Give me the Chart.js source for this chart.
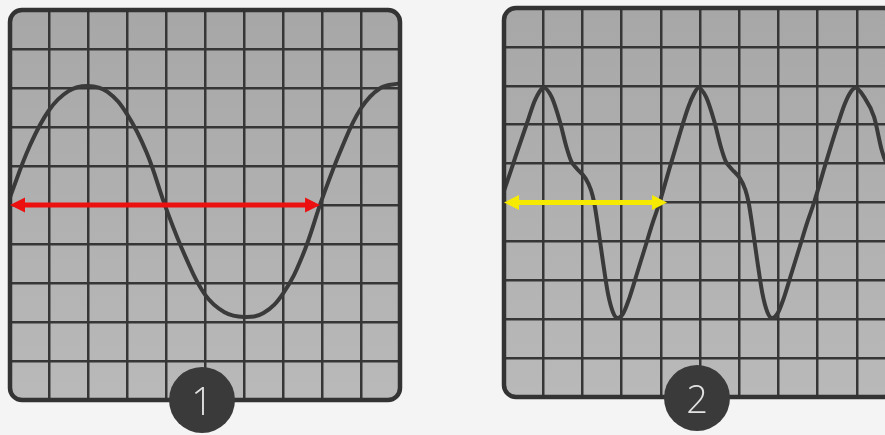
<!DOCTYPE html>
<html>
<head>
<meta charset="utf-8">
<script src="https://cdn.jsdelivr.net/npm/chart.js@4.4.1/dist/chart.umd.min.js"></script>
<style>
    html, body {
        margin: 0;
        padding: 0;
        width: 885px;
        height: 435px;
        overflow: hidden;
        background: #f4f4f4;
    }
    .scope {
        position: absolute;
        top: 0;
    }
    #scope1 { left: 0; }
    #scope2 { left: 490px; }
    .badge {
        position: absolute;
        width: 66px;
        height: 66px;
        border-radius: 50%;
        background: #3a3a3a;
        color: #e2e2e2;
        font-family: 'Open Sans', 'Noto Sans', sans-serif;
        font-weight: 300;
        font-size: 38px;
        line-height: 66px;
        text-align: center;
    }
</style>
</head>
<body>
<canvas id="scope1" class="scope" width="440" height="435"></canvas>
<canvas id="scope2" class="scope" width="420" height="435"></canvas>
<div class="badge" style="left:169px; top:367px;">1</div>
<div class="badge" style="left:664px; top:365px;">2</div>

<script>
// Screen 1: clean sine wave (x in divisions, y in divisions from centre)
const wave1X = [0, 0.5, 1, 1.5, 2, 2.5, 3, 3.5, 4, 4.5, 5, 5.5, 6, 6.5, 7, 7.5, 8, 8.5, 9, 9.5, 10];
const wave1Y = [0.2, 1.5, 2.43, 2.92, 3.05, 2.9, 2.33, 1.35, -0.08, -1.33, -2.3, -2.75, -2.87, -2.77, -2.27, -1.3, 0.15, 1.45, 2.48, 3.0, 3.12];

// Screen 2: distorted wave with a shoulder on the falling edge
const wave2X = [0, 0.15, 0.3, 0.59, 0.8, 1.02, 1.22, 1.42, 1.6, 1.72, 1.86, 2.08, 2.22, 2.3, 2.4, 2.52, 2.65, 2.78, 2.9, 3.04,
    3.2, 3.4, 3.6, 3.8, 3.97, 4.2, 4.45, 4.7, 4.85, 4.96, 5.16, 5.36, 5.54, 5.66, 5.8, 6.02, 6.16, 6.24, 6.34, 6.46,
    6.59, 6.72, 6.84, 6.98, 7.14, 7.34, 7.54, 7.74, 7.91, 8.22, 8.45, 8.68, 8.83, 8.97, 9.18, 9.44, 9.64, 9.74, 9.88, 10];
const wave2Y = [0.3, 0.74, 1.2, 2.05, 2.65, 2.95, 2.7, 2.1, 1.4, 1.05, 0.87, 0.62, 0.32, 0.0, -0.64, -1.49, -2.33, -2.82, -2.97, -2.85,
    -2.45, -1.8, -1.15, -0.5, 0.0, 0.8, 1.65, 2.45, 2.8, 2.95, 2.7, 2.1, 1.4, 1.05, 0.87, 0.62, 0.32, 0.0, -0.64, -1.49,
    -2.33, -2.82, -2.97, -2.85, -2.45, -1.8, -1.15, -0.5, 0.0, 1.05, 1.8, 2.5, 2.82, 2.95, 2.72, 2.2, 1.33, 1.05, 0.87, 0.75];

// Period markers (start and end in divisions, on the centre line)
const arrow1X = [0, 7.95];
const arrow2X = [0, 4.16];
const arrowY = 0;

const xRange = [0, 10];
const yRange = [-5, 5];

const gridColor = '#363636';
const traceColor = '#3a3a3a';

function roundRect(ctx, x, y, w, h, r) {
    ctx.beginPath();
    ctx.moveTo(x + r, y);
    ctx.lineTo(x + w - r, y);
    ctx.arcTo(x + w, y, x + w, y + r, r);
    ctx.lineTo(x + w, y + h - r);
    ctx.arcTo(x + w, y + h, x + w - r, y + h, r);
    ctx.lineTo(x + r, y + h);
    ctx.arcTo(x, y + h, x, y + h - r, r);
    ctx.lineTo(x, y + r);
    ctx.arcTo(x, y, x + r, y, r);
    ctx.closePath();
}

// Draws the screen background, the bezel and the period arrow
const scopeFrame = {
    id: 'scopeFrame',
    beforeDraw(chart) {
        const { ctx, chartArea: a } = chart;
        const g = ctx.createLinearGradient(0, a.top, 0, a.bottom);
        g.addColorStop(0, '#a7a7a7');
        g.addColorStop(1, '#b9b9b9');
        ctx.save();
        roundRect(ctx, a.left, a.top, a.right - a.left, a.bottom - a.top, 12);
        ctx.fillStyle = g;
        ctx.fill();
        ctx.restore();
    },
    afterDraw(chart, args, opts) {
        const { ctx, chartArea: a, scales: { x, y } } = chart;
        ctx.save();
        roundRect(ctx, a.left, a.top, a.right - a.left, a.bottom - a.top, 12);
        ctx.lineWidth = 4.5;
        ctx.strokeStyle = '#333333';
        ctx.stroke();

        // period arrow
        const x0 = x.getPixelForValue(opts.arrowX[0]);
        const x1 = x.getPixelForValue(opts.arrowX[1]);
        const py = y.getPixelForValue(opts.arrowY);
        const head = 15, half = 7.5;
        ctx.strokeStyle = opts.color;
        ctx.fillStyle = opts.color;
        ctx.lineWidth = 5;
        ctx.beginPath();
        ctx.moveTo(x0 + head - 1, py);
        ctx.lineTo(x1 - head + 1, py);
        ctx.stroke();
        ctx.beginPath();
        ctx.moveTo(x0, py);
        ctx.lineTo(x0 + head, py - half);
        ctx.lineTo(x0 + head, py + half);
        ctx.closePath();
        ctx.fill();
        ctx.beginPath();
        ctx.moveTo(x1, py);
        ctx.lineTo(x1 - head, py - half);
        ctx.lineTo(x1 - head, py + half);
        ctx.closePath();
        ctx.fill();
        ctx.restore();
    }
};

function axis(range) {
    return {
        type: 'linear',
        min: range[0],
        max: range[1],
        ticks: { display: false, stepSize: 1 },
        border: { display: false },
        grid: {
            drawTicks: false,
            lineWidth: 2.5,
            // edge lines are replaced by the rounded bezel
            color: c => (c.tick && (c.tick.value === range[0] || c.tick.value === range[1])) ? 'rgba(0,0,0,0)' : gridColor
        }
    };
}

function makeScope(id, xs, ys, arrowX, color, padding, smooth) {
    const points = xs.map((v, i) => ({ x: v, y: ys[i] }));
    const dataset = {
        data: points,
        borderColor: traceColor,
        borderWidth: 4,
        pointRadius: 0,
        fill: false
    };
    if (smooth === 'monotone') {
        dataset.cubicInterpolationMode = 'monotone';
    } else {
        dataset.tension = smooth;
    }
    return new Chart(document.getElementById(id), {
        type: 'line',
        data: { datasets: [dataset] },
        options: {
            responsive: false,
            animation: false,
            events: [],
            layout: { padding: padding, autoPadding: false },
            plugins: {
                legend: { display: false },
                tooltip: { enabled: false },
                scopeFrame: { arrowX: arrowX, arrowY: arrowY, color: color }
            },
            scales: {
                x: axis(xRange),
                y: axis(yRange)
            }
        },
        plugins: [scopeFrame]
    });
}

makeScope('scope1', wave1X, wave1Y, arrow1X, '#ec1010', { left: 10, right: 40, top: 10, bottom: 35 }, 0.4);
makeScope('scope2', wave2X, wave2Y, arrow2X, '#f6ea00', { left: 14, right: 14, top: 8, bottom: 38 }, 'monotone');
</script>
</body>
</html>
